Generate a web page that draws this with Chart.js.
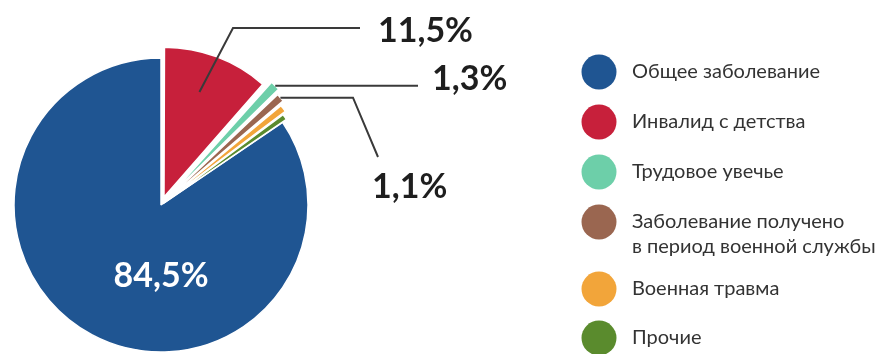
<!DOCTYPE html>
<html>
<head>
<meta charset="utf-8">
<script src="https://cdn.jsdelivr.net/npm/chart.js@4"></script>
<style>
  html, body { margin: 0; padding: 0; background: #ffffff; }
  #wrap { width: 886px; height: 354px; }
</style>
</head>
<body>
<div id="wrap"><canvas id="pieChart" width="886" height="354"></canvas></div>
<script>
// legend categories (each entry may be split over lines)
const categories = [
    ['Общее заболевание'],
    ['Инвалид с детства'],
    ['Трудовое увечье'],
    ['Заболевание получено', 'в период военной службы'],
    ['Военная травма'],
    ['Прочие']
];
const shares = [84.5, 11.5, 1.3, 1.1, 0.9, 0.7];
const shareLabels = ['84,5%', '11,5%', '1,3%', '1,1%', '', ''];
const colors = ['#1f5592', '#c7203b', '#6dcfa9', '#9a6650', '#f2a53a', '#5a8b2d'];
const sliceOffsets = [0, 34, 38, 28, 18, 10];

const labelFont = 'bold 34px Lato, "Open Sans", sans-serif';
const legendFont = '20px Lato, "Open Sans", sans-serif';
const lineColor = '#3a3a3a';

// point on a slice, following the way Chart.js shifts an offset arc
function arcPoint(arc, angleFrac, radiusFrac) {
    const o = (arc.options.offset || 0) / 4;
    const mid = (arc.startAngle + arc.endAngle) / 2;
    const fix = 1 - Math.sin(Math.min(Math.PI, arc.circumference));
    const r = (arc.outerRadius + o * fix) * radiusFrac;
    const a = arc.startAngle + (arc.endAngle - arc.startAngle) * angleFrac;
    return {
        x: arc.x + Math.cos(mid) * o + Math.cos(a) * r,
        y: arc.y + Math.sin(mid) * o + Math.sin(a) * r
    };
}

// callout layout: where each label's leader line bends and ends
const callouts = [
    { index: 1, angle: 0.45, radius: 0.74, path: [[233, 28], [360, 28]], text: [378, 42] },
    { index: 2, angle: 0.5, radius: 1.0, path: [[418, null]], text: [432, 90] },
    { index: 3, angle: 0.5, radius: 1.0, path: [[353, null], [378, 157]], text: [372, 198] }
];

const calloutPlugin = {
    id: 'callouts',
    afterDatasetsDraw(chart) {
        const ctx = chart.ctx;
        const arcs = chart.getDatasetMeta(0).data;
        ctx.save();
        ctx.strokeStyle = lineColor;
        ctx.lineWidth = 2;
        callouts.forEach(c => {
            const p = arcPoint(arcs[c.index], c.angle, c.radius);
            ctx.beginPath();
            ctx.moveTo(p.x, p.y);
            c.path.forEach(([x, y]) => ctx.lineTo(x, y === null ? p.y : y));
            ctx.stroke();
            ctx.fillStyle = '#1e1e1e';
            ctx.font = labelFont;
            ctx.textAlign = 'left';
            ctx.textBaseline = 'alphabetic';
            ctx.fillText(shareLabels[c.index], c.text[0], c.text[1]);
        });
        // main share inside the big slice
        const main = arcs[0];
        ctx.fillStyle = '#ffffff';
        ctx.font = labelFont;
        ctx.textAlign = 'center';
        ctx.fillText(shareLabels[0], main.x, main.y + main.outerRadius * 0.56);
        ctx.restore();
    }
};

const legendRows = [72, 122, 172, 222, 289, 338];

const legendPlugin = {
    id: 'sideLegend',
    afterDraw(chart) {
        const ctx = chart.ctx;
        ctx.save();
        categories.forEach((lines, i) => {
            ctx.beginPath();
            ctx.arc(599, legendRows[i], 17.5, 0, Math.PI * 2);
            ctx.fillStyle = colors[i];
            ctx.fill();
            ctx.fillStyle = '#333333';
            ctx.font = legendFont;
            ctx.textAlign = 'left';
            ctx.textBaseline = 'middle';
            lines.forEach((line, j) => ctx.fillText(line, 632, legendRows[i] + j * 25));
        });
        ctx.restore();
    }
};

new Chart(document.getElementById('pieChart'), {
    type: 'pie',
    data: {
        labels: categories.map(l => l.join(' ')),
        datasets: [{
            data: shares,
            backgroundColor: colors,
            borderColor: '#ffffff',
            borderWidth: 1.5,
            offset: sliceOffsets,
            radius: 147
        }]
    },
    options: {
        responsive: false,
        animation: false,
        rotation: -shares[0] / shares.reduce((s, v) => s + v, 0) * 360,
        layout: { padding: { left: 14, right: 886 - 308, top: 58, bottom: 2 } },
        plugins: {
            legend: { display: false },
            tooltip: { enabled: false }
        }
    },
    plugins: [calloutPlugin, legendPlugin]
});
</script>
</body>
</html>
